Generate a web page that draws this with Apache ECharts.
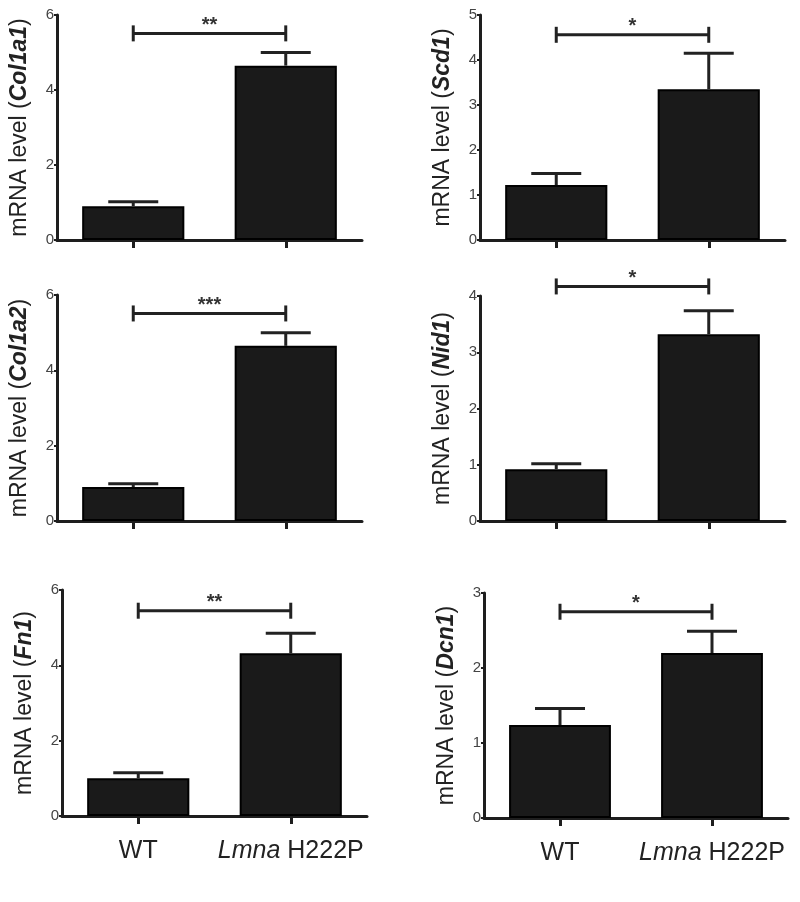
<!DOCTYPE html>
<html>
<head>
<meta charset="utf-8">
<script src="https://cdn.jsdelivr.net/npm/echarts@6/dist/echarts.min.js"></script>
<style>html,body{margin:0;padding:0;background:#fff}#c{width:800px;height:902px}</style>
</head>
<body>
<div id="c"></div>
<script>
const categories = ['WT', 'Lmna H222P'];
const genes = ['Col1a1', 'Scd1', 'Col1a2', 'Nid1', 'Fn1', 'Dcn1'];
const stars = ['**', '*', '***', '*', '**', '*'];
const wtMean = [0.90, 1.22, 0.90, 0.92, 1.00, 1.24];
const wtErr = [0.12, 0.26, 0.09, 0.10, 0.15, 0.22];
const mutMean = [4.65, 3.35, 4.65, 3.32, 4.32, 2.20];
const mutErr = [0.35, 0.80, 0.35, 0.42, 0.53, 0.29];
const yMax = [6, 5, 6, 4, 6, 3];
const yInterval = [2, 1, 2, 1, 2, 1];
const bracketY = [5.51, 4.56, 5.51, 4.17, 5.45, 2.75];

const layout = [
  {left: 57, top: 15, width: 305, height: 225},
  {left: 480, top: 15, width: 305, height: 225},
  {left: 57, top: 295, width: 305, height: 226},
  {left: 480, top: 296, width: 305, height: 225},
  {left: 62, top: 590, width: 305, height: 226},
  {left: 484, top: 593, width: 304, height: 225}
];
const FONT = 'Liberation Sans, Arial, sans-serif';
const INK = '#1e1e1e';

const chart = echarts.init(document.getElementById('c'), null, {renderer: 'canvas'});
const grid = [], xAxis = [], yAxis = [], series = [];

genes.forEach((g, i) => {
  const L = layout[i];
  const bottomRow = i >= 4;
  grid.push({left: L.left, top: L.top, width: L.width, height: L.height, outerBoundsMode: 'none', containLabel: false});
  xAxis.push({
    type: 'category', gridIndex: i, data: categories,
    axisLine: {lineStyle: {color: INK, width: 3}},
    axisTick: {show: true, alignWithLabel: true, length: 8, lineStyle: {color: INK, width: 3}},
    axisLabel: {
      show: bottomRow, interval: 0, hideOverlap: false, margin: 23, color: '#222', fontSize: 25, fontFamily: FONT,
      formatter: v => v === 'WT' ? 'WT' : '{i|Lmna} H222P',
      rich: {i: {fontStyle: 'italic', fontSize: 25, fontFamily: FONT, color: '#222'}}
    }
  });
  yAxis.push({
    type: 'value', gridIndex: i, min: 0, max: yMax[i], interval: yInterval[i],
    splitLine: {show: false},
    axisLine: {show: true, lineStyle: {color: INK, width: 3}},
    axisTick: {show: true, length: 3, lineStyle: {color: INK, width: 2}},
    axisLabel: {color: '#444', fontSize: 15, margin: 3, fontFamily: FONT},
    name: 'mRNA level ({g|' + g + '})',
    nameLocation: 'middle', nameRotate: 90, nameGap: 26,
    nameTextStyle: {
      color: '#222', fontSize: 23, fontFamily: FONT,
      rich: {g: {fontStyle: 'italic', fontWeight: 'bold', fontSize: 23, fontFamily: FONT, color: '#222'}}
    }
  });
  series.push({
    type: 'bar', xAxisIndex: i, yAxisIndex: i, barWidth: '67%',
    data: [wtMean[i], mutMean[i]],
    itemStyle: {color: '#1a1a1a', borderColor: '#000', borderWidth: 2},
    silent: true, animation: false
  });
  series.push({
    type: 'custom', xAxisIndex: i, yAxisIndex: i, clip: false, animation: false, silent: true, z: 5,
    data: [[0, wtMean[i], wtErr[i]], [1, mutMean[i], mutErr[i]]],
    renderItem: (params, api) => {
      const base = api.coord([api.value(0), api.value(1)]);
      const top = api.coord([api.value(0), api.value(1) + api.value(2)]);
      const st = {stroke: '#222', lineWidth: 3};
      return {type: 'group', children: [
        {type: 'line', shape: {x1: base[0], y1: base[1], x2: top[0], y2: top[1]}, style: st},
        {type: 'line', shape: {x1: top[0] - 25, y1: top[1], x2: top[0] + 25, y2: top[1]}, style: st}
      ]};
    }
  });
  series.push({
    type: 'custom', xAxisIndex: i, yAxisIndex: i, clip: false, animation: false, silent: true, z: 5,
    data: [[0, bracketY[i], 1]],
    renderItem: (params, api) => {
      const a = api.coord([0, api.value(1)]);
      const b = api.coord([1, api.value(1)]);
      const st = {stroke: '#222', lineWidth: 3};
      return {type: 'group', children: [
        {type: 'line', shape: {x1: a[0], y1: a[1], x2: b[0], y2: b[1]}, style: st},
        {type: 'line', shape: {x1: a[0], y1: a[1] - 8, x2: a[0], y2: a[1] + 8}, style: st},
        {type: 'line', shape: {x1: b[0], y1: b[1] - 8, x2: b[0], y2: b[1] + 8}, style: st},
        {type: 'text', style: {text: stars[i], x: (a[0] + b[0]) / 2, y: a[1] - 8, align: 'center', verticalAlign: 'middle',
          fontSize: 20, fontWeight: 'bold', fill: '#333', fontFamily: FONT}}
      ]};
    }
  });
});

chart.setOption({animation: false, backgroundColor: '#fff', grid, xAxis, yAxis, series});
</script>
</body>
</html>
